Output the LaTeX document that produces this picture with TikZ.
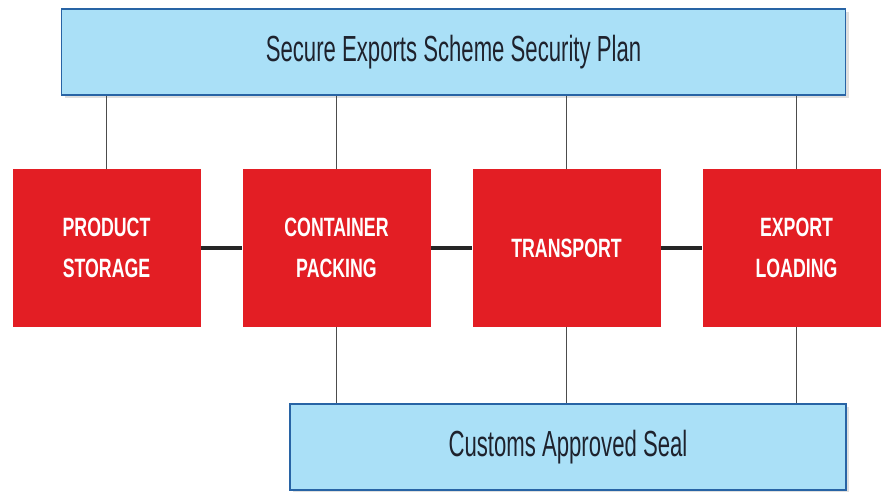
\documentclass[tikz,border=0pt]{standalone}
\usepackage{fontspec}
\newfontfamily\cnd{Liberation Sans}[FakeStretch=0.61]
\newfontfamily\cndbold{Liberation Sans Bold}[FakeStretch=0.67]
\usetikzlibrary{shadows}
\definecolor{planblue}{RGB}{170,224,247}
\definecolor{planedge}{RGB}{40,100,165}
\definecolor{stagered}{RGB}{227,30,36}
\definecolor{inkdark}{RGB}{30,34,45}

\begin{document}
\begin{tikzpicture}[%
    x=1pt, y=-1pt,
    planbox/.style={draw=planedge, line width=1.6pt, fill=planblue, inner sep=0pt,
      text=inkdark, font=\cnd\fontsize{36.3}{40}\selectfont,
      drop shadow={opacity=0.25, shadow xshift=3pt, shadow yshift=-3pt}},
    stagebox/.style={fill=stagered, minimum width=188pt, minimum height=158pt,
      inner sep=0pt, text=white, align=center, font=\cndbold\fontsize{26.5}{41}\selectfont},
    thinlink/.style={draw=black!70, line width=0.8pt},
    thicklink/.style={draw=black!85, line width=4pt},
    ]
    \useasboundingbox (0,0) rectangle (881,491);
    \clip (0,0) rectangle (881,491);
    % plans
    \node[planbox, minimum width=784pt, minimum height=86pt] (plan) at (453.5,52) {Secure Exports Scheme Security Plan};
    \node[planbox, minimum width=556pt, minimum height=86pt] (seal) at (568,447) {Customs Approved Seal};
    % stages
    \node[stagebox] (storage) at (106.5,248) {PRODUCT\\STORAGE};
    \node[stagebox] (packing) at (336.5,248) {CONTAINER\\PACKING};
    \node[stagebox] (transport) at (566.5,248) {TRANSPORT};
    \node[stagebox] (loading) at (796.5,248) {EXPORT\\LOADING};
    % links
    \draw[thicklink] (storage.east) -- (packing.west);
    \draw[thicklink] (packing.east) -- (transport.west);
    \draw[thicklink] (transport.east) -- (loading.west);
    \foreach \s in {storage,packing,transport,loading}
      \draw[thinlink] (\s.north) -- (\s.north |- plan.south);
    \foreach \s in {packing,transport,loading}
      \draw[thinlink] (\s.south) -- (\s.south |- seal.north);
\end{tikzpicture}
\end{document}
